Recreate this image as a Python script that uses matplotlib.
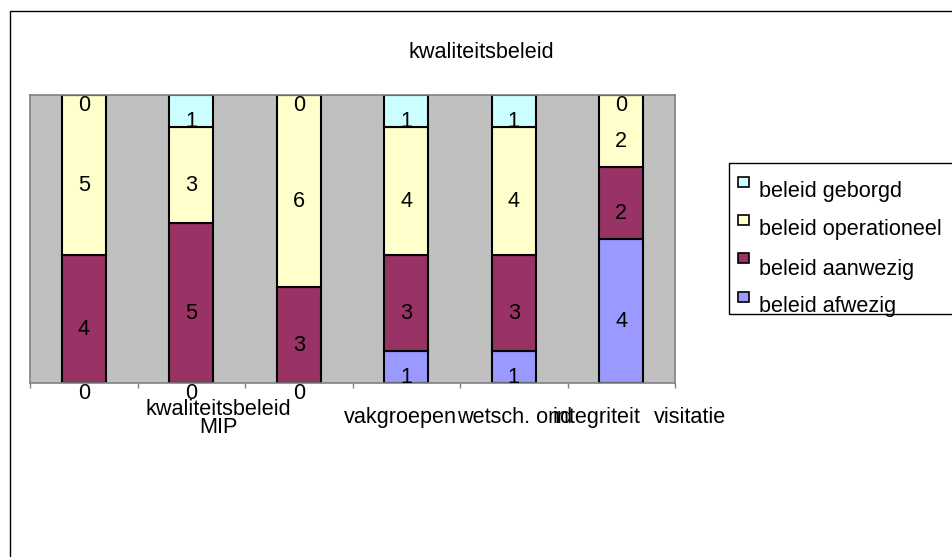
import matplotlib
matplotlib.use('Agg')
import matplotlib.pyplot as plt
import matplotlib.transforms as mtransforms
from matplotlib.patches import Rectangle
import numpy as np

W, H = 952, 557

title = 'kwaliteitsbeleid'
n_categories = 6
category_labels = ['kwaliteitsbeleid\nMIP', 'vakgroepen', 'wetsch. ond', 'integriteit', 'visitatie']
# where Excel dropped each category label (in category units) and its baseline in px
label_x = [1.25, 2.95, 4.01, 4.77, 5.64]
label_baseline = [433, 423, 423, 423, 423]

series_names = ['beleid afwezig', 'beleid aanwezig', 'beleid operationeel', 'beleid geborgd']
afwezig = [0, 0, 0, 1, 1, 4]
aanwezig = [4, 5, 3, 3, 3, 2]
operationeel = [5, 3, 6, 4, 4, 2]
geborgd = [0, 1, 0, 1, 1, 0]
series_colors = ['#9999FF', '#993366', '#FFFFCC', '#CCFFFF']

FONT = 'Liberation Sans'
FS = 15.6


def fx(x):
    return x / W


def fy(y):
    return 1 - y / H


def main():
    plt.rcParams['font.family'] = [FONT, 'DejaVu Sans']
    fig = plt.figure(figsize=(W / 100, H / 100), dpi=100)

    # outer chart border (right/bottom lie outside the picture)
    fig.patches.append(Rectangle((fx(10), fy(580)), fx(1000), fy(11) - fy(580),
                                 transform=fig.transFigure, fill=False,
                                 edgecolor='black', linewidth=1.0, clip_on=False))

    ax = fig.add_axes([fx(30), fy(383), fx(675 - 30), fy(95) - fy(383)])
    ax.set_facecolor('#C0C0C0')

    data = np.array([afwezig, aanwezig, operationeel, geborgd], dtype=float)
    totals = data.sum(axis=0)
    fractions = data / totals
    x = np.arange(n_categories)
    bottom = np.zeros(n_categories)
    for vals, frac, color in zip(data, fractions, series_colors):
        ax.bar(x, frac, 0.41, bottom=bottom, color=color, edgecolor='black',
               linewidth=1.5, zorder=2)
        for i in range(n_categories):
            ax.annotate(f'{int(vals[i])}', (x[i], bottom[i] + frac[i] / 2),
                        xytext=(0, -11.2), textcoords='offset points',
                        ha='center', va='baseline', fontsize=FS, zorder=3,
                        annotation_clip=False)
        bottom += frac

    ax.set_xlim(-0.5, n_categories - 0.5)
    ax.set_ylim(0, 1)
    ax.set_yticks([])
    ax.set_xticks(np.arange(-0.5, n_categories, 1.0))
    ax.set_xticklabels([])
    ax.tick_params(axis='x', direction='out', length=3.6, color='#808080', width=1)
    for side in ['top', 'right', 'left', 'bottom']:
        ax.spines[side].set_color('#808080')
        ax.spines[side].set_linewidth(1.2)

    label_trans = mtransforms.blended_transform_factory(ax.transData, fig.transFigure)
    for label, lx, base in zip(category_labels, label_x, label_baseline):
        ax.text(lx, fy(base), label, transform=label_trans, fontsize=FS,
                ha='center', va='baseline', linespacing=0.8,
                multialignment='center', clip_on=False)

    fig.text(fx(481.5), fy(58), title, fontsize=FS, ha='center', va='baseline')

    # legend, drawn like the Excel one
    fig.patches.append(Rectangle((fx(729), fy(314)), fx(300), fy(163) - fy(314),
                                 transform=fig.transFigure, fill=False,
                                 edgecolor='black', linewidth=1.0, clip_on=False))
    marker_tops = [177, 215, 253, 292]
    baselines = [197, 235, 275, 312]
    for j, k in enumerate(reversed(range(len(series_names)))):
        fig.patches.append(Rectangle((fx(738), fy(marker_tops[j] + 10)), fx(11),
                                     fy(marker_tops[j]) - fy(marker_tops[j] + 10),
                                     transform=fig.transFigure,
                                     facecolor=series_colors[k], edgecolor='black',
                                     linewidth=1.2))
        fig.text(fx(759), fy(baselines[j]), series_names[k], fontsize=FS,
                 ha='left', va='baseline')

    fig.savefig('out.png', dpi=100)


if __name__ == '__main__':
    main()
